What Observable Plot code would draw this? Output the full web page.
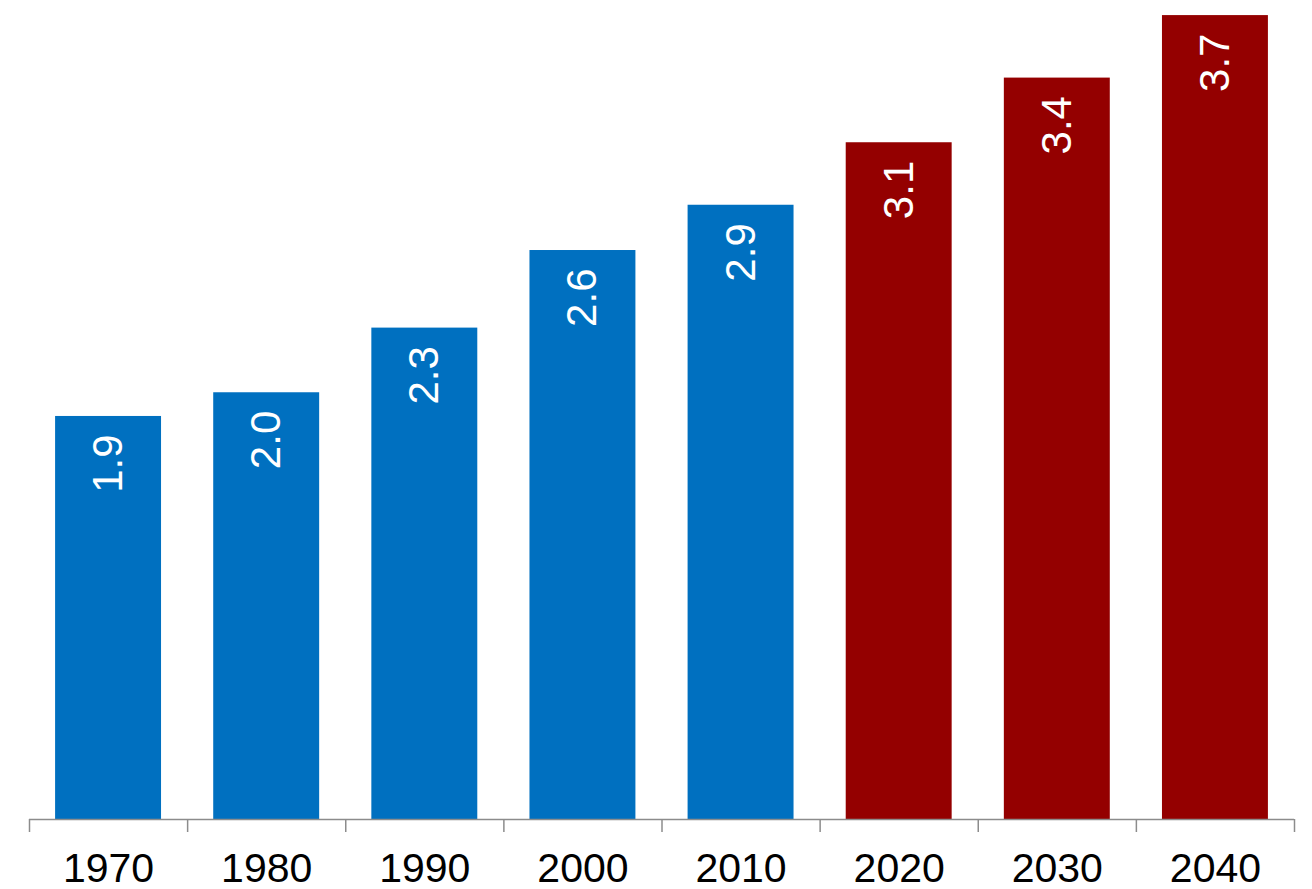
<!DOCTYPE html>
<html>
<head>
<meta charset="utf-8">
<script src="https://cdn.jsdelivr.net/npm/d3@7"></script>
<script src="https://cdn.jsdelivr.net/npm/@observablehq/plot@0.6"></script>
<style>
  html, body { margin: 0; padding: 0; background: #fff; }
  #chart { width: 1312px; height: 889px; }
</style>
</head>
<body>
<div id="chart"></div>
<script>
const years = [1970, 1980, 1990, 2000, 2010, 2020, 2030, 2040];
const values = [1.87, 1.98, 2.28, 2.64, 2.85, 3.14, 3.44, 3.73];
const labels = ["1.9", "2.0", "2.3", "2.6", "2.9", "3.1", "3.4", "3.7"];
const kinds = ["actual", "actual", "actual", "actual", "actual", "projected", "projected", "projected"];
const boundaries = [1965, 1975, 1985, 1995, 2005, 2015, 2025, 2035, 2045];

const data = years.map((y, i) => ({year: y, value: values[i], label: labels[i], kind: kinds[i]}));
const half = 3.35;
const font = "'Liberation Sans', Arial, Helvetica, sans-serif";

const chart = Plot.plot({
  width: 1312,
  height: 889,
  marginLeft: 29,
  marginRight: 18,
  marginTop: 0,
  marginBottom: 70,
  style: {fontFamily: font, background: "#fff"},
  x: {domain: [1965, 2045], label: null},
  y: {domain: [0, 3.8], axis: null, label: null},
  color: {domain: ["actual", "projected"], range: ["#0070c0", "#940000"]},
  marks: [
    Plot.rectY(data, {x1: d => d.year - half, x2: d => d.year + half, y: "value", fill: "kind"}),
    Plot.text(data, {
      x: "year", y: "value", text: "label", rotate: -90, textAnchor: "end",
      dy: 18, fill: "white", fontSize: 42, fontFamily: font
    }),
    Plot.ruleY([0], {stroke: "#8c8c8c", strokeWidth: 1.5}),
    Plot.axisX({ticks: boundaries, tickFormat: () => "", tickSize: 13, stroke: "#8c8c8c", strokeWidth: 1.5, label: null}),
    Plot.axisX({ticks: years, tickFormat: d => String(d), tickSize: 0, tickPadding: 33, fontSize: 41, fill: "#000", fontFamily: font, label: null})
  ]
});
document.getElementById("chart").appendChild(chart);
</script>
</body>
</html>
